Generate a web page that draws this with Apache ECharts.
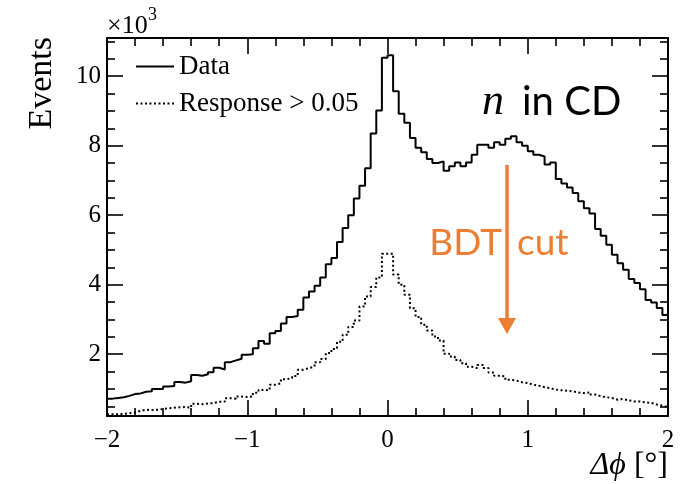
<!DOCTYPE html>
<html>
<head>
<meta charset="utf-8">
<script src="https://cdn.jsdelivr.net/npm/echarts@6/dist/echarts.min.js"></script>
<style>html,body{margin:0;padding:0;background:#fff}#c{width:687px;height:484px}</style>
</head>
<body>
<div id="c"></div>
<script>
// ---- data (Events, in units of 10^3) ----
const binStart = -2;
const binWidth = 0.04;
const dataValues = [
  0.72, 0.74, 0.76, 0.80, 0.85, 0.87, 0.92, 0.93, 1.00, 1.00,
  1.07, 1.08, 1.20, 1.18, 1.22, 1.40, 1.38, 1.42, 1.48, 1.61,
  1.56, 1.77, 1.82, 1.87, 1.98, 2.00, 2.17, 2.38, 2.30, 2.60,
  2.67, 2.88, 3.07, 3.10, 3.28, 3.63, 3.80, 3.97, 4.21, 4.59,
  4.77, 5.23, 5.63, 6.00, 6.48, 6.85, 7.35, 8.35, 9.01, 10.53,
  10.60, 9.57, 8.92, 8.66, 8.22, 7.94, 7.81, 7.62, 7.50, 7.55,
  7.28, 7.41, 7.52, 7.41, 7.52, 7.74, 8.03, 8.03, 7.94, 8.10,
  8.03, 8.20, 8.27, 8.10, 8.00, 7.84, 7.74, 7.69, 7.46, 7.52,
  7.04, 6.91, 6.80, 6.64, 6.40, 6.20, 6.05, 5.60, 5.41, 5.15,
  4.86, 4.62, 4.43, 4.16, 4.05, 3.87, 3.56, 3.49, 3.33, 3.13
];
const responseValues = [
  0.27, 0.27, 0.28, 0.30, 0.32, 0.37, 0.40, 0.39, 0.40, 0.42,
  0.44, 0.46, 0.47, 0.48, 0.46, 0.57, 0.56, 0.58, 0.59, 0.63,
  0.64, 0.73, 0.72, 0.78, 0.77, 0.78, 0.89, 0.97, 0.96, 1.12,
  1.16, 1.28, 1.31, 1.37, 1.55, 1.60, 1.64, 1.77, 1.86, 2.03,
  2.15, 2.36, 2.56, 2.78, 2.97, 3.37, 3.66, 3.93, 4.21, 4.89,
  4.89, 4.29, 4.00, 3.71, 3.32, 3.07, 2.85, 2.68, 2.51, 2.39,
  2.01, 1.93, 1.83, 1.74, 1.64, 1.60, 1.69, 1.60, 1.47, 1.38,
  1.36, 1.26, 1.24, 1.19, 1.17, 1.12, 1.09, 1.05, 1.02, 0.98,
  0.96, 0.95, 0.93, 0.90, 0.88, 0.90, 0.84, 0.79, 0.76, 0.74,
  0.69, 0.71, 0.67, 0.64, 0.64, 0.61, 0.60, 0.55, 0.52, 0.48
];
const xMin = -2, xMax = 2, xInterval = 1;
const yMin = 0.22, yMax = 11.1;
const yMajorTicks = [2, 4, 6, 8, 10];
const yMinorTicks = [0.5, 1, 1.5, 2.5, 3, 3.5, 4.5, 5, 5.5, 6.5, 7, 7.5, 8.5, 9, 9.5, 10.5, 11];
const seriesNames = ['Data', 'Response > 0.05'];

// ---- build histogram step points ----
function toSteps(vals) {
  const pts = vals.map((v, i) => [binStart + i * binWidth, v]);
  pts.push([binStart + vals.length * binWidth, vals[vals.length - 1]]);
  return pts;
}

const SERIF = "'Liberation Serif', 'DejaVu Serif', serif";
const SANS = "Lato, 'Open Sans', sans-serif";
const ORANGE = '#ED7D31';

const tickStyle = { color: '#000', width: 1.6 };
function xAx(pos, showLabel) {
  return {
    type: 'value', position: pos, min: xMin, max: xMax, interval: xInterval,
    axisLine: { show: true, onZero: false, lineStyle: { color: '#000', width: 2 } },
    axisTick: { show: true, inside: true, length: 16, lineStyle: tickStyle },
    minorTick: { show: true, splitNumber: 5, length: 8, lineStyle: tickStyle },
    splitLine: { show: false }, minorSplitLine: { show: false },
    axisLabel: {
      show: showLabel, margin: 12, color: '#000', fontFamily: SERIF, fontSize: 25,
      formatter: v => (v < 0 ? '\u2212' + Math.abs(v) : String(v))
    }
  };
}
function yAx(pos, ticks, len, showLabel, showLine) {
  return {
    type: 'value', position: pos, min: yMin, max: yMax,
    axisLine: { show: showLine, onZero: false, lineStyle: { color: '#000', width: 2 } },
    axisTick: { show: true, inside: true, length: len, customValues: ticks, lineStyle: tickStyle },
    splitLine: { show: false },
    axisLabel: {
      show: showLabel, customValues: ticks, margin: 6, color: '#000',
      fontFamily: SERIF, fontSize: 25, formatter: v => String(v)
    }
  };
}

const chart = echarts.init(document.getElementById('c'), null, { renderer: 'canvas' });
chart.setOption({
  animation: false,
  backgroundColor: '#fff',
  grid: { left: 107, right: 19, top: 38, bottom: 68, containLabel: false, outerBoundsMode: 'none' },
  xAxis: [xAx('bottom', true), xAx('top', false)],
  yAxis: [
    yAx('left', yMajorTicks, 16, true, true),
    yAx('left', yMinorTicks, 8, false, false),
    yAx('right', yMajorTicks, 16, false, true),
    yAx('right', yMinorTicks, 8, false, false)
  ],
  legend: {
    data: seriesNames, orient: 'vertical', left: 135, top: 53, padding: 0,
    itemWidth: 38, itemHeight: 14, itemGap: 10,
    itemStyle: { opacity: 0 },
    textStyle: { fontFamily: SERIF, fontSize: 27, color: '#000' }
  },
  series: [
    {
      name: seriesNames[0], type: 'line', step: 'end', symbol: 'none',
      xAxisIndex: 0, yAxisIndex: 0, data: toSteps(dataValues),
      lineStyle: { color: '#000', width: 2 }, itemStyle: { color: '#000' }
    },
    {
      name: seriesNames[1], type: 'line', step: 'end', symbol: 'none',
      xAxisIndex: 0, yAxisIndex: 0, data: toSteps(responseValues),
      lineStyle: { color: '#000', width: 2, type: [2, 2.5] }, itemStyle: { color: '#000' }
    }
  ],
  graphic: [
    { type: 'text', x: 107, y: 26, style: { text: '\u00d710', font: '26px ' + SERIF, fill: '#000', verticalAlign: 'middle' } },
    { type: 'text', x: 148, y: 15, style: { text: '3', font: '18px ' + SERIF, fill: '#000', verticalAlign: 'middle' } },
    { type: 'text', x: 42, y: 37, rotation: Math.PI / 2, style: { text: 'Events', font: '34px ' + SERIF, fill: '#000', align: 'right', verticalAlign: 'middle' } },
    { type: 'text', x: 668, y: 466, style: {
        text: '{i|\u0394\u03d5} [\u00b0]', align: 'right', verticalAlign: 'middle', fill: '#000',
        font: '32px ' + SERIF,
        rich: { i: { fontStyle: 'italic', fontFamily: SERIF, fontSize: 32 } }
    } },
    { type: 'text', x: 482, y: 102, style: { text: 'n', font: 'italic 44px ' + SERIF, fill: '#000', verticalAlign: 'middle' } },
    { type: 'text', x: 522, y: 102, style: { text: 'in CD', font: '40px ' + SANS, fill: '#000', verticalAlign: 'middle' } },
    { type: 'text', x: 502, y: 243, style: { text: 'BDT', font: '37px ' + SANS, fill: ORANGE, align: 'right', verticalAlign: 'middle' } },
    { type: 'text', x: 517, y: 243, style: { text: 'cut', font: '37px ' + SANS, fill: ORANGE, verticalAlign: 'middle' } },
    { type: 'line', shape: { x1: 507, y1: 165, x2: 507, y2: 320 }, style: { stroke: ORANGE, lineWidth: 3.5 } },
    { type: 'polygon', shape: { points: [[498, 318], [516, 318], [507, 334]] }, style: { fill: ORANGE } }
  ]
});
</script>
</body>
</html>
